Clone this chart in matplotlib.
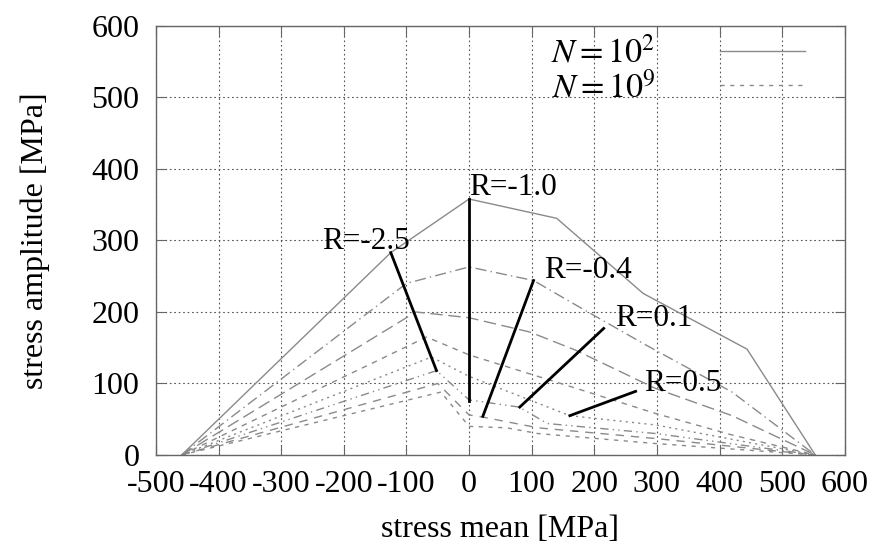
import numpy as np
import matplotlib
matplotlib.use("Agg")
import matplotlib.pyplot as plt

plt.rcParams['font.family'] = ['Liberation Serif', 'DejaVu Serif']
plt.rcParams['mathtext.fontset'] = 'stix'
plt.rcParams['axes.unicode_minus'] = False

# Haigh diagram curves, one per life N (stress mean, stress amplitude) in MPa
mean_1e2 = [-459, -125, 0, 140, 278, 444, 553]
amp_1e2 = [0, 283, 358, 331, 226, 148, 0]
mean_1e3 = [-459, -100, 0, 103, 170, 280, 420, 553]
amp_1e3 = [0, 240, 263, 244, 210, 155, 88, 0]
mean_1e4 = [-459, -85, 0, 97, 169, 298, 420, 553]
amp_1e4 = [0, 200, 192, 172, 147, 93, 55, 0]
mean_1e5 = [-459, -68, 0, 161, 298, 420, 553]
amp_1e5 = [0, 165, 140, 96, 58, 28, 0]
mean_1e6 = [-459, -60, 0, 161, 298, 553]
amp_1e6 = [0, 137, 110, 55, 42, 0]
mean_1e7 = [-459, -52, 0, 80, 125, 298, 553]
amp_1e7 = [0, 118, 77, 67, 44, 30, 0]
mean_1e8 = [-459, -50, 0, 22, 110, 298, 553]
amp_1e8 = [0, 100, 56, 53, 38, 23, 0]
mean_1e9 = [-459, -45, 0, 60, 110, 298, 553]
amp_1e9 = [0, 88, 40, 38, 30, 16, 0]

curves = [(mean_1e2, amp_1e2), (mean_1e3, amp_1e3), (mean_1e4, amp_1e4),
          (mean_1e5, amp_1e5), (mean_1e6, amp_1e6), (mean_1e7, amp_1e7),
          (mean_1e8, amp_1e8), (mean_1e9, amp_1e9)]
dashes = ['-', (0, (8, 3, 1, 3)), (0, (9, 4)), (0, (4, 4)), (0, (1.5, 3)),
          (0, (6, 3, 1, 3, 1, 3)), (0, (6, 5)), (0, (3, 4))]

# R-ratio leader lines: (label, label pos, line start, line end)
r_labels = ['R=-2.5', 'R=-1.0', 'R=-0.4', 'R=0.1', 'R=0.5']
r_text_pos = [(-235, 288), (0, 364), (119, 248), (233, 180), (280, 89)]
r_line_top = [(-125, 283), (0, 358), (103, 244), (215, 177), (266, 89)]
r_line_bot = [(-52, 118), (0, 76), (22, 54), (81, 67), (161, 55)]

fig = plt.figure(figsize=(8.74, 5.46), dpi=100)
ax = fig.add_axes([0.1785, 0.1667, 0.788, 0.7857])

gray = '#8a8a8a'
handles = []
for (m, a), ls in zip(curves, dashes):
    h, = ax.plot(m, a, color=gray, lw=1.0, linestyle=ls)
    handles.append(h)

for lab, tp, p0, p1 in zip(r_labels, r_text_pos, r_line_top, r_line_bot):
    ax.plot([p0[0], p1[0]], [p0[1], p1[1]], color='black', lw=2.0)
    ax.text(tp[0], tp[1], lab, fontsize=22.5, ha='left', va='baseline')

ax.set_xlim(-500, 600)
ax.set_ylim(0, 600)
ax.set_xticks(np.arange(-500, 601, 100))
ax.set_yticks(np.arange(0, 601, 100))
ax.grid(True, linestyle=(0, (1.5, 2.5)), color='#555555', lw=0.8)
ax.tick_params(direction='in', length=7, width=0.8, color='#666666',
               top=True, right=True, labelsize=23)
ax.tick_params(axis='y', pad=12)
ax.tick_params(axis='x', pad=11)
for s in ax.spines.values():
    s.set_color('#666666')
    s.set_linewidth(1.0)

ax.set_xlabel('stress mean [MPa]', fontsize=23, labelpad=11)
ax.set_ylabel('stress amplitude [MPa]', fontsize=23, labelpad=30)

leg = ax.legend([handles[0], handles[7]], [r'$N = 10^2$', r'$N = 10^9$'],
                loc='upper right', bbox_to_anchor=(0.975, 1.025), frameon=False,
                markerfirst=False, handlelength=2.5, handletextpad=1.9,
                fontsize=24.5, labelspacing=0.08, borderaxespad=0.25)

fig.savefig('out.png', dpi=100)
